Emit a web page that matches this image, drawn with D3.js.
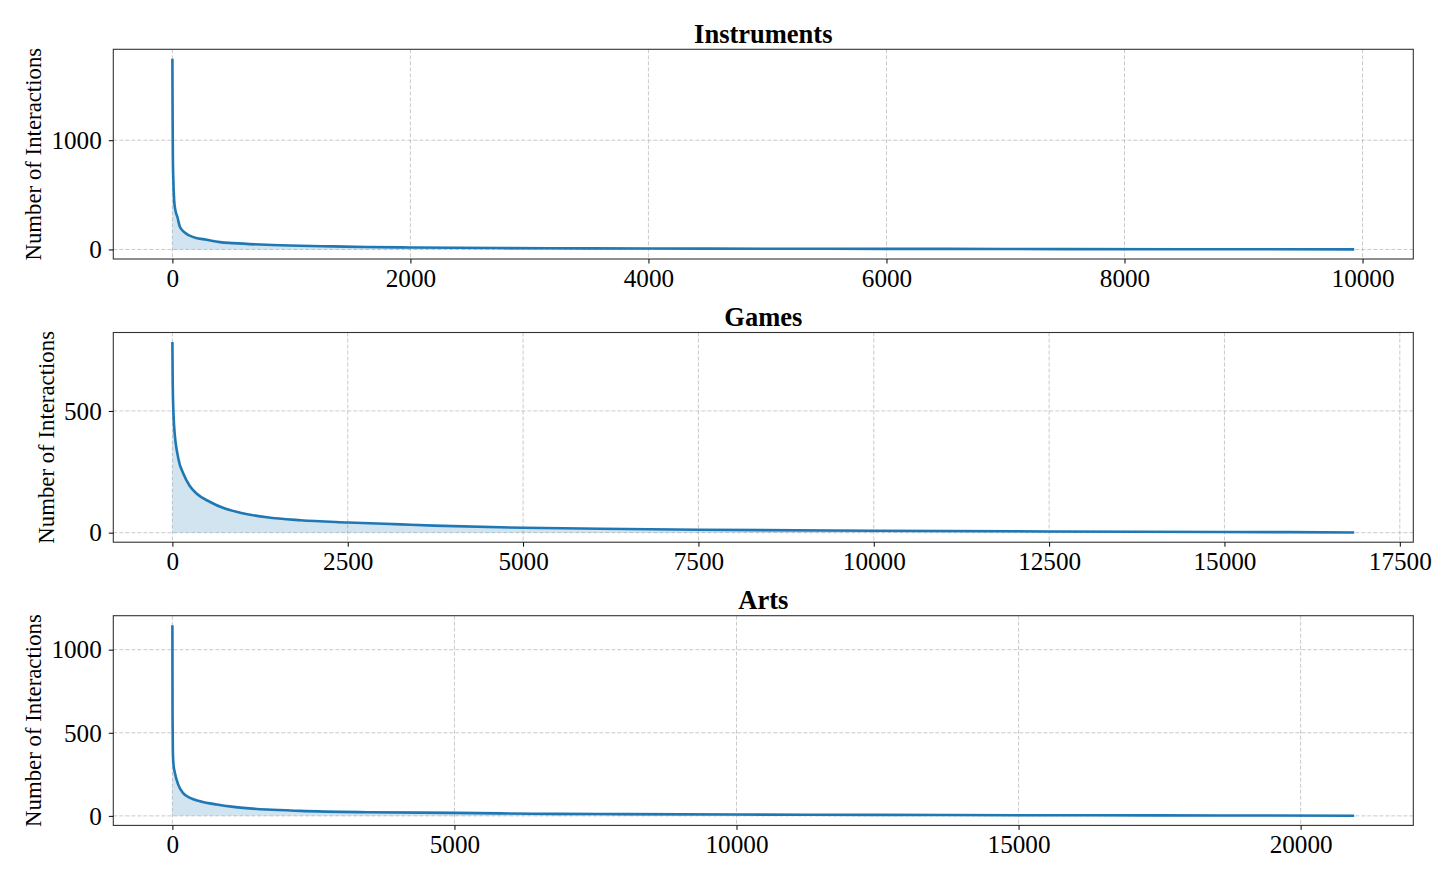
<!DOCTYPE html>
<html><head><meta charset="utf-8">
<script src="https://cdn.jsdelivr.net/npm/d3@7"></script>
<style>
body{margin:0;background:#fff}
svg{display:block}
text{font-family:"Liberation Serif","Times New Roman",serif;fill:#000}
</style>
</head><body><svg id="c" width="1456" height="883"></svg>
<script>
// ---- data ----
const panelTitles = ["Instruments", "Games", "Arts"];
const yLabel = "Number of Interactions";

const instrumentsRank  = [0, 2, 4, 8, 15, 25, 42, 64, 106, 176, 288, 400, 512, 792, 1071, 1351, 1631, 2000, 2750, 3500, 4500, 5500, 6500, 7500, 8500, 9930];
const instrumentsCount = [1745, 1200, 850, 633, 450, 360, 297, 205, 153, 113, 89, 67, 58, 43, 34, 28, 22, 18, 13, 10, 8, 6, 5, 3, 2, 1];

const gamesRank  = [0, 5, 24, 86, 157, 243, 348, 538, 729, 967, 1348, 1824, 2500, 3252, 3729, 5000, 6110, 7500, 10000, 12500, 15000, 16850];
const gamesCount = [783, 604, 440, 303, 242, 194, 160, 126, 101, 82, 63, 51, 42, 34, 29, 20, 16, 12, 8, 5, 3, 1];

const artsRank  = [0, 3, 8, 18, 47, 107, 195, 314, 491, 787, 1083, 1675, 2266, 3450, 5000, 6410, 7590, 10000, 12500, 15000, 17500, 20950];
const artsCount = [1147, 600, 400, 315, 255, 185, 135, 108, 88, 68, 54, 38, 30, 22, 18, 13, 11, 8, 6, 4, 3, 1];

const instrumentsXTicks = [0, 2000, 4000, 6000, 8000, 10000];
const instrumentsYTicks = [0, 1000];
const gamesXTicks = [0, 2500, 5000, 7500, 10000, 12500, 15000, 17500];
const gamesYTicks = [0, 500];
const artsXTicks = [0, 5000, 10000, 15000, 20000];
const artsYTicks = [0, 500, 1000];

// ---- layout ----
const svg = d3.select("#c");
const left = 113.3, right = 1413.3, H = 209.7;
const tops = [49.3, 332.5, 615.7];
const color = "#1f77b4";
const tickFont = 25.2;

const panels = [
  {title: panelTitles[0], rank: instrumentsRank, count: instrumentsCount, xt: instrumentsXTicks, yt: instrumentsYTicks},
  {title: panelTitles[1], rank: gamesRank, count: gamesCount, xt: gamesXTicks, yt: gamesYTicks},
  {title: panelTitles[2], rank: artsRank, count: artsCount, xt: artsXTicks, yt: artsYTicks}
];

panels.forEach((p, i) => {
  const top = tops[i], bottom = top + H;
  const data = p.rank.map((r, k) => ({r, c: p.count[k]}));
  const N = d3.max(p.rank), M = d3.max(p.count);
  const x = d3.scaleLinear().domain([-0.05 * N, 1.05 * N]).range([left, right]);
  const y = d3.scaleLinear().domain([-0.05 * M, 1.05 * M]).range([bottom, top]);
  const g = svg.append("g");

  // grid
  g.append("g").selectAll("line").data(p.xt).join("line")
    .attr("x1", d => x(d)).attr("x2", d => x(d)).attr("y1", top).attr("y2", bottom)
    .attr("stroke", "#b0b0b0").attr("stroke-opacity", 0.75).attr("stroke-width", 0.9)
    .attr("stroke-dasharray", "4,2");
  g.append("g").selectAll("line").data(p.yt).join("line")
    .attr("y1", d => y(d)).attr("y2", d => y(d)).attr("x1", left).attr("x2", right)
    .attr("stroke", "#b0b0b0").attr("stroke-opacity", 0.75).attr("stroke-width", 0.9)
    .attr("stroke-dasharray", "4,2");

  // area + line
  g.append("path").datum(data)
    .attr("d", d3.area().x(d => x(d.r)).y0(y(0)).y1(d => y(d.c)).curve(d3.curveMonotoneX))
    .attr("fill", color).attr("fill-opacity", 0.2);
  g.append("path").datum(data)
    .attr("d", d3.line().x(d => x(d.r)).y(d => y(d.c)).curve(d3.curveMonotoneX))
    .attr("fill", "none").attr("stroke", color).attr("stroke-width", 2.6)
    .attr("stroke-linejoin", "round");

  // frame
  g.append("rect").attr("x", left).attr("y", top).attr("width", right - left).attr("height", H)
    .attr("fill", "none").attr("stroke", "#333").attr("stroke-width", 1.1);

  // x axis
  const xa = g.append("g").attr("transform", `translate(0,${bottom})`)
    .call(d3.axisBottom(x).tickValues(p.xt).tickFormat(d3.format("d")).tickSizeInner(4.5).tickSizeOuter(0).tickPadding(5));
  xa.select(".domain").remove();
  xa.selectAll("line").attr("stroke", "#000").attr("stroke-width", 1);
  xa.selectAll("text").attr("font-size", tickFont).attr("dy", null).attr("y", 27.8)
    .attr("font-family", '"Liberation Serif","Times New Roman",serif');

  // y axis
  const ya = g.append("g").attr("transform", `translate(${left},0)`)
    .call(d3.axisLeft(y).tickValues(p.yt).tickFormat(d3.format("d")).tickSizeInner(4.5).tickSizeOuter(0).tickPadding(7));
  ya.select(".domain").remove();
  ya.selectAll("line").attr("stroke", "#000").attr("stroke-width", 1);
  ya.selectAll("text").attr("font-size", tickFont).attr("dy", "0.33em")
    .attr("font-family", '"Liberation Serif","Times New Roman",serif');

  let minX = Infinity;
  ya.selectAll("text").each(function() {
    const w = this.getComputedTextLength();
    minX = Math.min(minX, left - 11.5 - w);
  });

  // y label
  const fs = 22.8;
  const lx = minX - 5.5 - 0.216 * fs;
  g.append("text").attr("transform", `translate(${lx},${(top + bottom) / 2}) rotate(-90)`)
    .attr("text-anchor", "middle").attr("font-size", fs).text(yLabel);

  // title
  g.append("text").attr("x", (left + right) / 2).attr("y", top - 6.5)
    .attr("text-anchor", "middle").attr("font-size", 26.5).attr("font-weight", "bold").text(p.title);
});
</script>
</body></html>
